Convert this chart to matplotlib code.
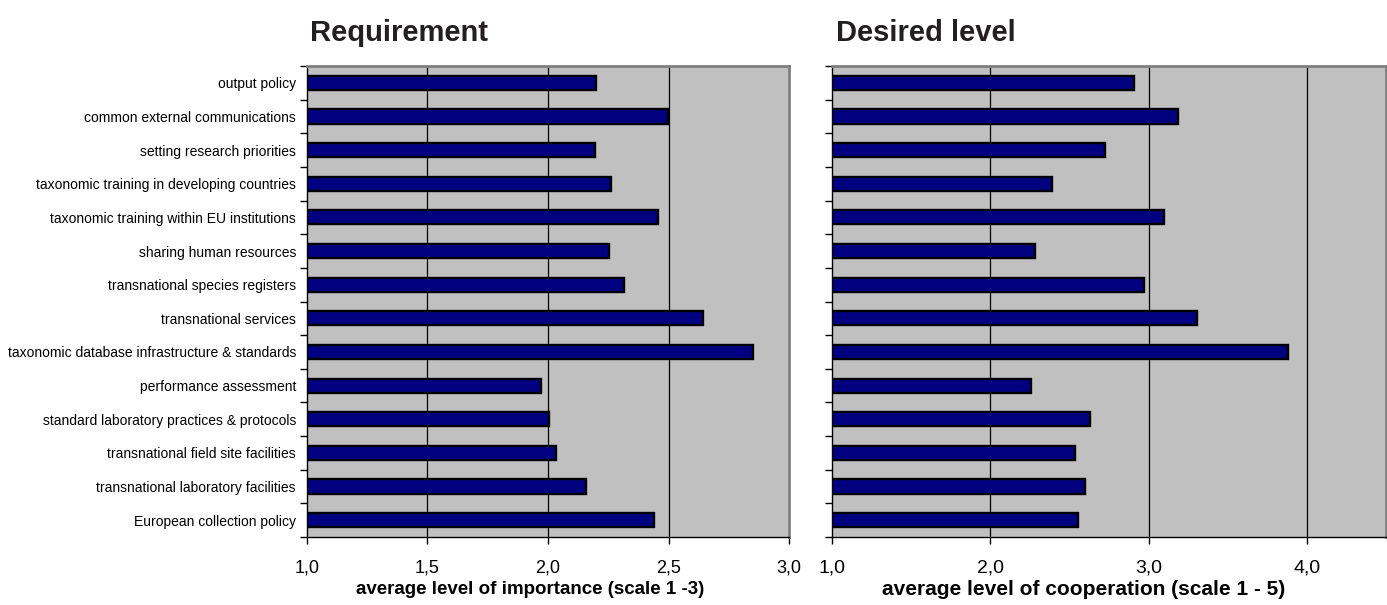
import numpy as np
from matplotlib import pyplot as plt
from matplotlib.ticker import FixedLocator

plt.rcParams['font.family'] = ['Liberation Sans', 'DejaVu Sans']

# Data (top to bottom as shown)
categories = [
    'output policy',
    'common external communications',
    'setting research priorities',
    'taxonomic training in developing countries',
    'taxonomic training within EU institutions',
    'sharing human resources',
    'transnational species registers',
    'transnational services',
    'taxonomic database infrastructure & standards',
    'performance assessment',
    'standard laboratory practices & protocols',
    'transnational field site facilities',
    'transnational laboratory facilities',
    'European collection policy',
]
importance = [2.20, 2.50, 2.195, 2.26, 2.455, 2.253, 2.315,
              2.642, 2.849, 1.97, 2.004, 2.033, 2.158, 2.441]
cooperation = [2.91, 3.187, 2.722, 2.391, 3.097, 2.285, 2.974,
               3.309, 3.88, 2.256, 2.627, 2.535, 2.598, 2.551]

left_ticks = [1.0, 1.5, 2.0, 2.5, 3.0]
right_ticks = [1.0, 2.0, 3.0, 4.0]

W, H = 1387, 605
fig = plt.figure(figsize=(W / 100, H / 100), dpi=100)

top, bottom = 66, 537
ax1 = fig.add_axes([307 / W, (H - bottom) / H, (789 - 307) / W, (bottom - top) / H])
ax2 = fig.add_axes([832 / W, (H - bottom) / H, (1386 - 832) / W, (bottom - top) / H])

y = np.arange(len(categories))
n = len(categories)


def style(ax, values, xlim, ticks, tick_fs, label, label_fs, label_x):
    ax.set_facecolor('#C0C0C0')
    ax.barh(y, np.array(values) - xlim[0], left=xlim[0], height=0.42,
            color='#000080', edgecolor='black', linewidth=1.7, zorder=3)
    ax.set_xlim(*xlim)
    ax.set_ylim(n - 0.5, -0.5)
    ax.set_xticks(ticks)
    ax.set_xticklabels([f'{t:.1f}'.replace('.', ',') for t in ticks], fontsize=tick_fs)
    ax.tick_params(axis='x', direction='out', length=5, width=1, pad=11)
    for t in ticks[1:]:
        if t < xlim[1]:
            ax.axvline(t, color='black', linewidth=0.9, zorder=1)
    # boundary ticks between categories
    ax.yaxis.set_major_locator(FixedLocator(np.arange(-0.5, n, 1.0)))
    ax.set_yticklabels([])
    ax.tick_params(axis='y', which='major', direction='out', length=5, width=1)
    ax.set_xlabel(label, fontsize=label_fs, fontweight='bold', va='center')
    ax.xaxis.set_label_coords(label_x, -0.112)
    for s in ['left', 'bottom']:
        ax.spines[s].set_color('black')
        ax.spines[s].set_linewidth(1)
    for s in ['top', 'right']:
        ax.spines[s].set_color('#808080')
        ax.spines[s].set_linewidth(2)


style(ax1, importance, (1.0, 3.0), left_ticks, 13, 'average level of importance (scale 1 -3)', 13.5, 0.462)
style(ax2, cooperation, (1.0, 4.5), right_ticks, 14, 'average level of cooperation (scale 1 - 5)', 15, 0.455)

# category labels on the left chart
ax1.yaxis.set_minor_locator(FixedLocator(y))
ax1.set_yticklabels(categories, minor=True, fontsize=10)
ax1.tick_params(axis='y', which='minor', length=0, pad=8)

# titles
fig.text(310 / W, 1 - 33 / H, 'Requirement', fontsize=21, fontweight='bold',
         ha='left', va='center', color='#231F20')
fig.text(836 / W, 1 - 33 / H, 'Desired level', fontsize=21, fontweight='bold',
         ha='left', va='center', color='#231F20')

plt.savefig('out.png', dpi=100)
